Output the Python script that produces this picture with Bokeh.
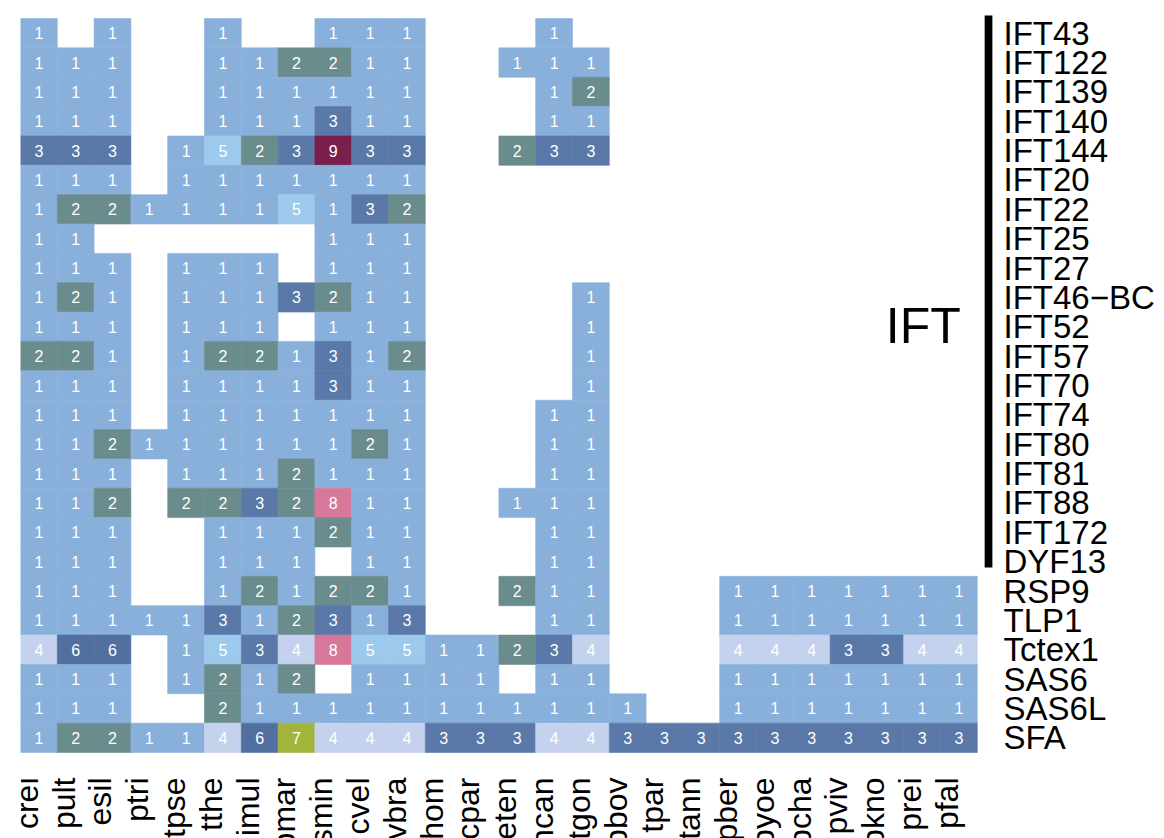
import math
from bokeh.plotting import figure
from bokeh.models import ColumnDataSource, FixedTicker, Range1d, Label
from bokeh.core.properties import value
from bokeh.embed import file_html
from bokeh.resources import INLINE

# ---------------- data ----------------
species = ["crei", "pult", "esil", "ptri", "tpse", "tthe", "imul", "pmar", "smin",
           "cvel", "vbra", "chom", "cpar", "eten", "ncan", "tgon", "bbov", "tpar",
           "tann", "pber", "pyoe", "pcha", "pviv", "pkno", "prei", "pfal"]

genes = ["IFT43", "IFT122", "IFT139", "IFT140", "IFT144", "IFT20", "IFT22", "IFT25",
         "IFT27", "IFT46\u2212BC", "IFT52", "IFT57", "IFT70", "IFT74", "IFT80", "IFT81",
         "IFT88", "IFT172", "DYF13", "RSP9", "TLP1", "Tctex1", "SAS6", "SAS6L", "SFA"]

ift_genes = genes[:19]
group_label = "IFT"

#            crei pult esil ptri tpse tthe imul pmar smin cvel vbra chom cpar eten ncan tgon bbov tpar tann pber pyoe pcha pviv pkno prei pfal
IFT43    = [1, 0, 1, 0, 0, 1, 0, 0, 1, 1, 1, 0, 0, 0, 1, 0, 0, 0, 0, 0, 0, 0, 0, 0, 0, 0]
IFT122   = [1, 1, 1, 0, 0, 1, 1, 2, 2, 1, 1, 0, 0, 1, 1, 1, 0, 0, 0, 0, 0, 0, 0, 0, 0, 0]
IFT139   = [1, 1, 1, 0, 0, 1, 1, 1, 1, 1, 1, 0, 0, 0, 1, 2, 0, 0, 0, 0, 0, 0, 0, 0, 0, 0]
IFT140   = [1, 1, 1, 0, 0, 1, 1, 1, 3, 1, 1, 0, 0, 0, 1, 1, 0, 0, 0, 0, 0, 0, 0, 0, 0, 0]
IFT144   = [3, 3, 3, 0, 1, 5, 2, 3, 9, 3, 3, 0, 0, 2, 3, 3, 0, 0, 0, 0, 0, 0, 0, 0, 0, 0]
IFT20    = [1, 1, 1, 0, 1, 1, 1, 1, 1, 1, 1, 0, 0, 0, 0, 0, 0, 0, 0, 0, 0, 0, 0, 0, 0, 0]
IFT22    = [1, 2, 2, 1, 1, 1, 1, 5, 1, 3, 2, 0, 0, 0, 0, 0, 0, 0, 0, 0, 0, 0, 0, 0, 0, 0]
IFT25    = [1, 1, 0, 0, 0, 0, 0, 0, 1, 1, 1, 0, 0, 0, 0, 0, 0, 0, 0, 0, 0, 0, 0, 0, 0, 0]
IFT27    = [1, 1, 1, 0, 1, 1, 1, 0, 1, 1, 1, 0, 0, 0, 0, 0, 0, 0, 0, 0, 0, 0, 0, 0, 0, 0]
IFT46_BC = [1, 2, 1, 0, 1, 1, 1, 3, 2, 1, 1, 0, 0, 0, 0, 1, 0, 0, 0, 0, 0, 0, 0, 0, 0, 0]
IFT52    = [1, 1, 1, 0, 1, 1, 1, 0, 1, 1, 1, 0, 0, 0, 0, 1, 0, 0, 0, 0, 0, 0, 0, 0, 0, 0]
IFT57    = [2, 2, 1, 0, 1, 2, 2, 1, 3, 1, 2, 0, 0, 0, 0, 1, 0, 0, 0, 0, 0, 0, 0, 0, 0, 0]
IFT70    = [1, 1, 1, 0, 1, 1, 1, 1, 3, 1, 1, 0, 0, 0, 0, 1, 0, 0, 0, 0, 0, 0, 0, 0, 0, 0]
IFT74    = [1, 1, 1, 0, 1, 1, 1, 1, 1, 1, 1, 0, 0, 0, 1, 1, 0, 0, 0, 0, 0, 0, 0, 0, 0, 0]
IFT80    = [1, 1, 2, 1, 1, 1, 1, 1, 1, 2, 1, 0, 0, 0, 1, 1, 0, 0, 0, 0, 0, 0, 0, 0, 0, 0]
IFT81    = [1, 1, 1, 0, 1, 1, 1, 2, 1, 1, 1, 0, 0, 0, 1, 1, 0, 0, 0, 0, 0, 0, 0, 0, 0, 0]
IFT88    = [1, 1, 2, 0, 2, 2, 3, 2, 8, 1, 1, 0, 0, 1, 1, 1, 0, 0, 0, 0, 0, 0, 0, 0, 0, 0]
IFT172   = [1, 1, 1, 0, 0, 1, 1, 1, 2, 1, 1, 0, 0, 0, 1, 1, 0, 0, 0, 0, 0, 0, 0, 0, 0, 0]
DYF13    = [1, 1, 1, 0, 0, 1, 1, 1, 0, 1, 1, 0, 0, 0, 1, 1, 0, 0, 0, 0, 0, 0, 0, 0, 0, 0]
RSP9     = [1, 1, 1, 0, 0, 1, 2, 1, 2, 2, 1, 0, 0, 2, 1, 1, 0, 0, 0, 1, 1, 1, 1, 1, 1, 1]
TLP1     = [1, 1, 1, 1, 1, 3, 1, 2, 3, 1, 3, 0, 0, 0, 1, 1, 0, 0, 0, 1, 1, 1, 1, 1, 1, 1]
Tctex1   = [4, 6, 6, 0, 1, 5, 3, 4, 8, 5, 5, 1, 1, 2, 3, 4, 0, 0, 0, 4, 4, 4, 3, 3, 4, 4]
SAS6     = [1, 1, 1, 0, 1, 2, 1, 2, 0, 1, 1, 1, 1, 0, 1, 1, 0, 0, 0, 1, 1, 1, 1, 1, 1, 1]
SAS6L    = [1, 1, 1, 0, 0, 2, 1, 1, 1, 1, 1, 1, 1, 1, 1, 1, 1, 0, 0, 1, 1, 1, 1, 1, 1, 1]
SFA      = [1, 2, 2, 1, 1, 4, 6, 7, 4, 4, 4, 3, 3, 3, 4, 4, 3, 3, 3, 3, 3, 3, 3, 3, 3, 3]

counts = [IFT43, IFT122, IFT139, IFT140, IFT144, IFT20, IFT22, IFT25, IFT27, IFT46_BC,
          IFT52, IFT57, IFT70, IFT74, IFT80, IFT81, IFT88, IFT172, DYF13, RSP9, TLP1,
          Tctex1, SAS6, SAS6L, SFA]

# ---------------- style ----------------
palette = {1: "#88B0DB", 2: "#6B8C8C", 3: "#5A79A8", 4: "#C4D2EE", 5: "#9DCAEC",
           6: "#52709F", 7: "#A2B53A", 8: "#D5789B", 9: "#7A1F4C"}
FONT = "Liberation Sans"

W, H = 1162, 838
CW, RH = 36.8, 29.36          # pixel size of one cell
LEFT, TOP = 20, 14
FRAME_W = 977
HEAT_H = 738                  # frame top to bottom of heatmap (px)

n_rows = len(genes)
n_cols = len(species)

xs, ys, fills, txts = [], [], [], []
for r, row in enumerate(counts):
    for c, v in enumerate(row):
        if v:
            xs.append(c + 0.5)
            ys.append(n_rows - 1 - r + 0.5)
            fills.append(palette[v])
            txts.append(str(v))
src = ColumnDataSource(dict(x=xs, y=ys, fill=fills, txt=txts))

y_top = HEAT_H / RH
y_bot = -(H - TOP - HEAT_H) / RH

p = figure(width=W, height=H, x_range=Range1d(0, FRAME_W / CW), y_range=Range1d(y_bot, y_top),
           x_axis_location=None, y_axis_location="right", toolbar_location=None,
           output_backend="svg", min_border_left=LEFT, min_border_top=TOP,
           min_border_right=W - LEFT - FRAME_W, min_border_bottom=0)
p.outline_line_color = None
p.grid.visible = False
p.background_fill_color = "white"
p.border_fill_color = "white"

p.rect(x="x", y="y", width=1, height=1, source=src, fill_color="fill",
       line_color="fill", line_width=0.6)
p.text(x="x", y="y", text="txt", source=src, text_color="white",
       text_align="center", text_baseline="middle", text_font_size="16px",
       text_font=value(FONT))

# species labels (rotated, bottom)
lab_y = -25 / RH
p.text(x=[c + 0.5 - 0.33 for c in range(n_cols)], y=[lab_y] * n_cols, text=species,
       angle=math.pi / 2, text_align="right", text_baseline="alphabetic",
       text_color="black", text_font_size="32px", text_font=value(FONT))

# group bar for IFT genes
n_ift = len(ift_genes)
p.quad(left=[26.2], right=[26.41], bottom=[n_rows - n_ift + 0.3], top=[n_rows + 0.1],
       fill_color="black", line_color=None)
p.add_layout(Label(x=25.55, y=14.54, text=group_label, text_align="right",
                   text_baseline="alphabetic", text_font_size="50px",
                   text_font=FONT, text_color="black"))

# gene labels (right axis)
ticks = [n_rows - 1 - r + 0.5 for r in range(n_rows)]
ax = p.yaxis[0]
ax.ticker = FixedTicker(ticks=ticks)
ax.major_label_overrides = {t: g for t, g in zip(ticks, genes)}
ax.major_tick_out = 0
ax.major_tick_in = 0
ax.minor_tick_out = 0
ax.minor_tick_in = 0
ax.axis_line_color = None
ax.major_label_standoff = 6
ax.major_label_text_font_size = "33px"
ax.major_label_text_font = FONT
ax.major_label_text_color = "black"

open("out.html", "w").write(file_html(p, INLINE))
